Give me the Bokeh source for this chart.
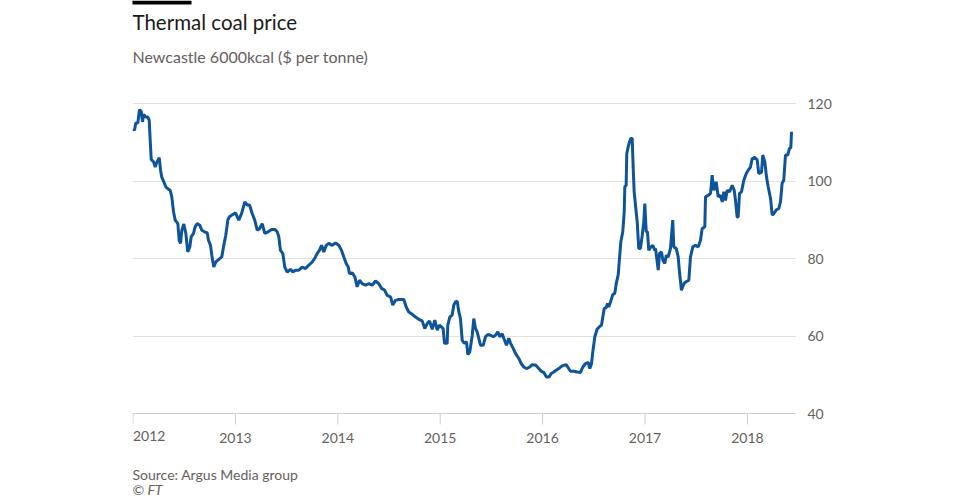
from bokeh.plotting import figure
from bokeh.models import Label, BoxAnnotation, FixedTicker, Range1d, ColumnDataSource
from bokeh.core.properties import value
from bokeh.embed import file_html
from bokeh.resources import INLINE

# Thermal coal price, Newcastle 6000kcal ($ per tonne); x = decimal year
year = [
    2012.000, 2012.015, 2012.027, 2012.047, 2012.063, 2012.080, 2012.093, 2012.103, 2012.125, 2012.145,
    2012.158, 2012.168, 2012.178, 2012.200, 2012.217, 2012.229, 2012.256, 2012.269, 2012.281, 2012.301,
    2012.320, 2012.340, 2012.363, 2012.379, 2012.396, 2012.412, 2012.438, 2012.451, 2012.464, 2012.477,
    2012.496, 2012.516, 2012.535, 2012.555, 2012.568, 2012.591, 2012.607, 2012.627, 2012.652, 2012.672,
    2012.698, 2012.725, 2012.737, 2012.757, 2012.770, 2012.789, 2012.809, 2012.835, 2012.867, 2012.884,
    2012.906, 2012.926, 2012.939, 2012.965, 2012.991, 2013.001, 2013.033, 2013.060, 2013.092, 2013.115,
    2013.138, 2013.164, 2013.189, 2013.213, 2013.235, 2013.262, 2013.287, 2013.320, 2013.353, 2013.385,
    2013.408, 2013.424, 2013.440, 2013.463, 2013.482, 2013.506, 2013.538, 2013.561, 2013.587, 2013.619,
    2013.652, 2013.685, 2013.717, 2013.750, 2013.782, 2013.799, 2013.821, 2013.841, 2013.863, 2013.887,
    2013.912, 2013.945, 2013.978, 2014.010, 2014.036, 2014.059, 2014.082, 2014.102, 2014.114, 2014.141,
    2014.166, 2014.189, 2014.212, 2014.238, 2014.271, 2014.303, 2014.336, 2014.368, 2014.400, 2014.427,
    2014.459, 2014.482, 2014.515, 2014.537, 2014.563, 2014.596, 2014.645, 2014.668, 2014.693, 2014.727,
    2014.759, 2014.791, 2014.824, 2014.850, 2014.873, 2014.896, 2014.922, 2014.947, 2014.971, 2014.993,
    2015.029, 2015.042, 2015.068, 2015.074, 2015.094, 2015.117, 2015.133, 2015.149, 2015.166, 2015.182,
    2015.198, 2015.215, 2015.237, 2015.257, 2015.270, 2015.289, 2015.313, 2015.328, 2015.345, 2015.361,
    2015.377, 2015.394, 2015.420, 2015.442, 2015.465, 2015.491, 2015.518, 2015.540, 2015.562, 2015.582,
    2015.605, 2015.621, 2015.647, 2015.670, 2015.687, 2015.713, 2015.735, 2015.768, 2015.791, 2015.816,
    2015.843, 2015.875, 2015.898, 2015.931, 2015.963, 2015.986, 2016.012, 2016.038, 2016.061, 2016.084,
    2016.109, 2016.158, 2016.191, 2016.230, 2016.250, 2016.272, 2016.305, 2016.338, 2016.370, 2016.393,
    2016.419, 2016.445, 2016.461, 2016.478, 2016.490, 2016.510, 2016.533, 2016.556, 2016.575, 2016.588,
    2016.602, 2016.621, 2016.634, 2016.646, 2016.663, 2016.686, 2016.705, 2016.719, 2016.738, 2016.751,
    2016.764, 2016.783, 2016.797, 2016.803, 2016.816, 2016.822, 2016.836, 2016.849, 2016.861, 2016.875,
    2016.885, 2016.894, 2016.907, 2016.924, 2016.939, 2016.956, 2016.973, 2016.988, 2016.998, 2017.012,
    2017.024, 2017.037, 2017.057, 2017.076, 2017.096, 2017.103, 2017.129, 2017.142, 2017.161, 2017.174,
    2017.193, 2017.207, 2017.227, 2017.249, 2017.271, 2017.281, 2017.305, 2017.324, 2017.337, 2017.356,
    2017.379, 2017.402, 2017.428, 2017.444, 2017.467, 2017.493, 2017.520, 2017.542, 2017.558, 2017.584,
    2017.591, 2017.617, 2017.640, 2017.656, 2017.672, 2017.695, 2017.715, 2017.737, 2017.754, 2017.770,
    2017.786, 2017.803, 2017.825, 2017.852, 2017.871, 2017.884, 2017.900, 2017.910, 2017.923, 2017.942,
    2017.965, 2017.988, 2018.008, 2018.030, 2018.047, 2018.072, 2018.096, 2018.111, 2018.138, 2018.150,
    2018.170, 2018.187, 2018.203, 2018.226, 2018.242, 2018.258, 2018.281, 2018.306, 2018.323, 2018.339,
    2018.355, 2018.372, 2018.394, 2018.411, 2018.424, 2018.431,
]
price = [
    113.5, 113.1, 115.0, 115.0, 118.4, 118.0, 115.3, 117.2, 116.5, 116.5,
    115.7, 110.5, 105.5, 105.0, 103.6, 104.6, 106.0, 102.8, 101.0, 99.8,
    98.5, 98.0, 97.6, 95.9, 92.0, 89.9, 89.0, 84.7, 83.9, 87.3,
    88.9, 86.5, 81.7, 83.0, 85.6, 86.5, 88.2, 89.0, 88.6, 87.3,
    86.9, 86.6, 84.7, 83.4, 80.8, 77.8, 79.1, 79.7, 80.4, 83.0,
    86.0, 89.9, 90.7, 91.2, 91.6, 91.8, 89.9, 91.6, 94.6, 93.8,
    93.8, 91.6, 89.9, 87.3, 87.7, 89.0, 86.5, 86.9, 87.5, 87.5,
    86.9, 85.6, 82.1, 81.3, 77.8, 76.5, 77.2, 76.5, 77.0, 77.0,
    77.8, 77.4, 78.3, 79.1, 80.4, 81.3, 82.1, 83.4, 81.7, 83.4,
    83.9, 83.4, 84.0, 83.4, 82.1, 80.4, 78.7, 77.8, 76.1, 76.3,
    75.3, 72.7, 74.4, 73.5, 73.1, 73.5, 73.1, 74.2, 73.5, 72.3,
    71.8, 70.5, 70.1, 68.0, 69.2, 69.4, 69.4, 67.5, 66.2, 65.6,
    64.9, 64.3, 63.9, 61.9, 63.2, 63.9, 61.7, 64.1, 61.5, 62.8,
    61.9, 58.1, 58.1, 62.8, 64.9, 65.4, 68.0, 68.8, 69.0, 66.2,
    64.5, 58.9, 58.1, 58.5, 55.2, 55.9, 60.2, 64.5, 61.9, 61.1,
    59.4, 57.6, 57.6, 59.8, 60.4, 60.2, 59.8, 60.2, 61.1, 59.8,
    60.6, 59.4, 57.6, 59.4, 58.1, 56.8, 55.5, 54.2, 52.9, 52.0,
    51.6, 52.0, 52.6, 52.5, 51.6, 50.9, 50.6, 49.4, 49.4, 50.3,
    50.7, 51.6, 52.3, 52.6, 51.8, 50.9, 50.9, 50.7, 50.6, 52.0,
    52.9, 53.2, 51.6, 52.9, 55.9, 59.8, 61.8, 62.4, 62.8, 64.9,
    67.1, 67.3, 68.4, 67.5, 68.8, 70.7, 71.0, 73.5, 75.7, 80.0,
    84.3, 86.9, 92.0, 98.5, 98.9, 107.1, 108.8, 110.1, 111.0, 111.0,
    103.2, 97.2, 93.8, 89.4, 82.6, 82.6, 86.0, 89.4, 94.2, 86.9,
    86.9, 82.1, 83.0, 83.4, 82.1, 82.6, 77.0, 81.3, 81.7, 79.6,
    78.7, 80.8, 80.4, 82.6, 89.9, 83.0, 82.6, 80.4, 76.5, 71.8,
    73.5, 74.0, 74.4, 80.4, 83.0, 83.4, 83.0, 84.7, 87.7, 88.2,
    95.9, 96.3, 96.8, 101.5, 97.6, 99.8, 95.9, 96.3, 94.6, 97.2,
    95.0, 97.6, 97.2, 98.9, 97.6, 95.0, 90.7, 90.7, 96.8, 97.2,
    100.2, 101.9, 102.8, 103.6, 105.8, 106.1, 105.4, 101.9, 102.3, 106.7,
    104.9, 101.0, 98.5, 95.5, 91.2, 91.6, 92.5, 92.9, 94.6, 99.4,
    100.2, 106.7, 106.7, 108.4, 108.6, 112.7,
]

year_ticks = [2012, 2013, 2014, 2015, 2016, 2017, 2018]
year_labels = [str(y) for y in year_ticks]
price_ticks = [40, 60, 80, 100, 120]

title_text = "Thermal coal price"
subtitle_text = "Newcastle 6000kcal ($ per tonne)"
source_text = "Source: Argus Media group"
credit_text = "\u00a9 FT"

FONT = "Lato"
GREY = "#66605c"
GRID = "#e9e1d8"
AXIS = "#d6cdc4"
BLUE = "#0f5499"

W, H = 960, 500
FRAME_L, FRAME_R = 132, 796          # plot frame, px
PX_PER_YEAR = 102.4
PX_PER_UNIT = 3.875
BASE_PY = 413                        # pixel row of the 40 line

X0 = 2012 + (FRAME_L - 132.5) / PX_PER_YEAR
X1 = 2012 + (FRAME_R - 132.5) / PX_PER_YEAR
Y_TOP = price_ticks[0] + BASE_PY / PX_PER_UNIT
Y_BOT = price_ticks[0] - (H - BASE_PY) / PX_PER_UNIT


def xd(px):
    return X0 + (px - FRAME_L) / PX_PER_YEAR


def yd(py):
    return Y_TOP - py / PX_PER_UNIT


p = figure(width=W, height=H, output_backend="svg", toolbar_location=None,
           x_range=Range1d(X0, X1), y_range=Range1d(Y_BOT, Y_TOP),
           x_axis_type=None, y_axis_location="right",
           min_border_left=FRAME_L, min_border_right=W - FRAME_R,
           min_border_top=0, min_border_bottom=0)
p.outline_line_color = None
p.background_fill_color = "white"
p.border_fill_color = "white"

# horizontal grid + right-hand value axis
p.ygrid.ticker = FixedTicker(ticks=price_ticks[1:])
p.ygrid.grid_line_color = GRID
p.ygrid.grid_line_width = 1

ya = p.yaxis[0]
ya.ticker = FixedTicker(ticks=price_ticks)
ya.axis_line_color = None
ya.major_tick_line_color = None
ya.minor_tick_line_color = None
ya.major_label_text_font = FONT
ya.major_label_text_font_size = "14px"
ya.major_label_text_color = GREY
ya.major_label_standoff = 5

# time axis: base line, year ticks and labels
p.segment(x0=X0, y0=price_ticks[0], x1=X1, y1=price_ticks[0],
          line_color=AXIS, line_width=1)
p.segment(x0=year_ticks, y0=price_ticks[0], x1=year_ticks, y1=yd(BASE_PY + 11),
          line_color=AXIS, line_width=1)
src = ColumnDataSource(dict(x=year_ticks[1:], label=year_labels[1:]))
p.text(x="x", y=yd(437), text="label", source=src, text_align="center",
       text_baseline="alphabetic", text_font=value(FONT),
       text_font_size="14px", text_color=GREY)
# first year label sits left-aligned at its tick
p.add_layout(Label(x=year_ticks[0], y=yd(435), text=year_labels[0], text_align="left",
                   text_baseline="alphabetic", text_font=FONT,
                   text_font_size="14px", text_color=GREY))

# price line
p.line(year, price, line_color=BLUE, line_width=3)

# header
p.add_layout(BoxAnnotation(left=xd(131), right=xd(191), top=yd(0), bottom=yd(4),
                           fill_color="black", fill_alpha=1, line_color=None))
p.add_layout(Label(x=xd(132), y=yd(21.5), text=title_text, text_font=FONT,
                   text_font_size="20.5px", text_color="#1a1a1a",
                   text_baseline="alphabetic"))
p.add_layout(Label(x=xd(132), y=yd(55.5), text=subtitle_text, text_font=FONT,
                   text_font_size="16px", text_color=GREY,
                   text_baseline="alphabetic"))

# footer
p.add_layout(Label(x=xd(132), y=yd(473.5), text=source_text, text_font=FONT,
                   text_font_size="14px", text_color=GREY, text_baseline="alphabetic"))
p.add_layout(Label(x=xd(132), y=yd(489), text=credit_text, text_font=FONT,
                   text_font_size="14px", text_font_style="italic", text_color=GREY,
                   text_baseline="alphabetic"))

open("out.html", "w").write(file_html(p, INLINE))
